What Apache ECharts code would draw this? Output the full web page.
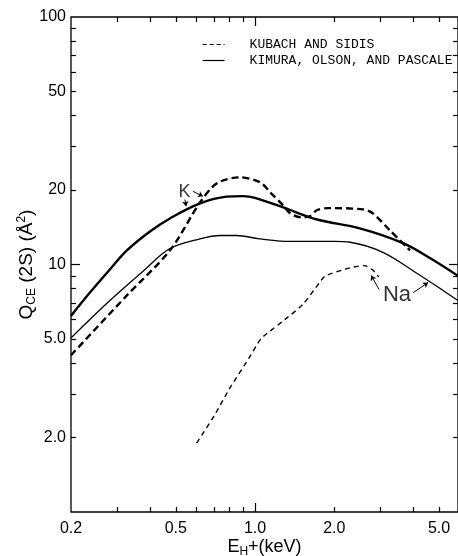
<!DOCTYPE html>
<html>
<head>
<meta charset="utf-8">
<script src="https://cdn.jsdelivr.net/npm/echarts@6/dist/echarts.min.js"></script>
<style>
  html, body { margin: 0; padding: 0; background: #fff; }
  #chart { width: 458px; height: 556px; }
</style>
</head>
<body>
<div id="chart"></div>
<script>
// energy (keV) vs cross section (A^2)
const kimuraK = [[0.2, 6.2], [0.236, 7.7], [0.281, 9.55], [0.326, 11.4], [0.399, 13.6], [0.475, 15.35], [0.618, 17.65], [0.78, 18.8], [0.9, 18.9], [1.0, 18.6], [1.28, 17.0], [1.72, 15.2], [2.5, 14.0], [3.65, 12.2], [4.63, 10.6], [5.9, 9.0]]
const kimuraNa = [[0.2, 5.05], [0.281, 7.15], [0.38, 9.5], [0.475, 11.6], [0.618, 12.7], [0.74, 13.1], [0.85, 13.1], [1.04, 12.7], [1.36, 12.4], [2.0, 12.4], [2.3, 12.3], [3.06, 11.2], [4.13, 9.2], [5.18, 7.85], [5.9, 7.15]]
const kubachK = [[0.2, 4.3], [0.326, 7.5], [0.475, 11.4], [0.618, 17.8], [0.717, 21.3], [0.877, 22.5], [1.045, 21.5], [1.14, 19.6], [1.28, 17.3], [1.36, 16.1], [1.5, 15.5], [1.62, 15.7], [1.72, 16.6], [1.9, 16.9], [2.57, 16.7], [2.8, 16.1], [3.26, 13.7], [3.88, 11.4]]
const kubachNa = [[0.6, 1.9], [0.7, 2.45], [0.8, 3.15], [0.95, 4.2], [1.05, 5.0], [1.11, 5.26], [1.3, 6.0], [1.52, 6.9], [1.75, 8.4], [1.85, 9.0], [2.3, 9.7], [2.6, 9.9], [2.8, 9.5], [2.95, 8.9]]

// axis ticks and labels
const xLabels = [0.2, 0.5, 1, 2, 5]
const xTicks = [0.3, 0.4, 0.5, 0.6, 0.7, 0.8, 0.9, 2, 3, 4, 5]
const xDecade = [1]
const yLabels = [2, 5, 10, 20, 50, 100]
const yTicks = [2, 3, 4, 5, 6, 7, 8, 9, 20, 30, 40, 50, 60, 70, 80, 90]
const yDecade = [10]

// annotations
const notes = [
  { name: 'K', value: [0.54, 19.9], size: 18 },
  { name: 'Na', value: [3.46, 7.6], size: 22 },
]
const arrows = [
  [[0.581, 19.75], [0.634, 18.85]],
  [[0.542, 18.3], [0.547, 17.2]],
  [[2.96, 7.92], [2.76, 9.03]],
  [[3.99, 7.7], [4.54, 8.45]],
]

const ink = '#000'
const font = '"Liberation Sans", Arial, sans-serif'

const logX = (extra) => Object.assign({
  type: 'log', logBase: 10, min: 0.2, max: 5.9, gridIndex: 0,
  axisLine: { show: false },
  splitLine: { show: false },
  axisLabel: { show: false },
}, extra)
const logY = (extra) => Object.assign({
  type: 'log', logBase: 10, min: 1, max: 100, gridIndex: 0,
  axisLine: { show: false },
  splitLine: { show: false },
  axisLabel: { show: false },
}, extra)
const tick = (values, len) => ({
  show: true, inside: true, length: len, customValues: values,
  lineStyle: { color: ink, width: 1.2 },
})

const chart = echarts.init(document.getElementById('chart'), null, { renderer: 'canvas' })
chart.setOption({
  backgroundColor: '#fff',
  animation: false,
  grid: {
    left: 71, top: 17, right: 0, bottom: 44,
    outerBoundsMode: 'none', containLabel: false,
    show: true, borderColor: ink, borderWidth: 1.3, backgroundColor: 'transparent',
  },
  legend: {
    orient: 'vertical',
    left: 197,
    top: 33,
    itemWidth: 22,
    itemHeight: 12,
    itemGap: 3,
    data: [
      { name: 'KUBACH AND SIDIS', lineStyle: { type: [4, 3] } },
      { name: 'KIMURA, OLSON, AND PASCALE' },
    ],
    lineStyle: { width: 1.2 },
    itemStyle: { opacity: 0 },
    textStyle: { fontFamily: '"Liberation Mono", "DejaVu Sans Mono", monospace', fontSize: 13, color: ink, padding: [0, 0, 0, 20] },
  },
  xAxis: [
    logX({
      position: 'bottom',
      axisTick: tick(xTicks, 5),
      axisLabel: {
        show: true, customValues: xLabels, margin: 9,
        fontFamily: font, fontSize: 16, color: ink,
        formatter: (v) => (+v).toFixed(1),
      },
      name: '{n|E}{s|H}{n|+(keV)}',
      nameLocation: 'middle',
      nameMoveOverlap: false,
      nameGap: 25,
      nameTextStyle: {
        rich: {
          n: { fontFamily: font, fontSize: 18, color: ink },
          s: { fontFamily: font, fontSize: 12, color: ink, padding: [9, 0, 0, 0] },
        },
      },
    }),
    logX({ position: 'bottom', axisTick: tick(xDecade, 9) }),
    logX({ position: 'top', axisTick: tick(xTicks, 5) }),
    logX({ position: 'top', axisTick: tick(xDecade, 9) }),
  ],
  yAxis: [
    logY({
      position: 'left',
      axisTick: tick(yTicks, 5),
      axisLabel: {
        show: true, customValues: yLabels, margin: 5,
        fontFamily: font, fontSize: 16, color: ink,
        formatter: (v) => (+v < 10 ? (+v).toFixed(1) : String(+v)),
      },
      name: '{n|Q}{s|CE}{n| (2S) (Å}{p|2}{n|)}',
      nameLocation: 'middle',
      nameMoveOverlap: false,
      nameRotate: 90,
      nameGap: 33,
      nameTextStyle: {
        rich: {
          n: { fontFamily: font, fontSize: 19, color: ink },
          s: { fontFamily: font, fontSize: 12, color: ink, padding: [10, 0, 0, 0] },
          p: { fontFamily: font, fontSize: 12, color: ink, padding: [0, 0, 10, 0] },
        },
      },
    }),
    logY({ position: 'left', axisTick: tick(yDecade, 9) }),
    logY({ position: 'right', axisTick: tick(yTicks, 5) }),
    logY({ position: 'right', axisTick: tick(yDecade, 9) }),
  ],
  series: [
    {
      name: 'KIMURA, OLSON, AND PASCALE', type: 'line', data: kimuraK,
      symbol: 'none', smooth: 0.35, lineStyle: { color: ink, width: 2.4 }, itemStyle: { color: ink },
    },
    {
      name: 'KIMURA, OLSON, AND PASCALE', type: 'line', data: kimuraNa,
      symbol: 'none', smooth: 0.35, lineStyle: { color: ink, width: 1.3 }, itemStyle: { color: ink },
    },
    {
      name: 'KUBACH AND SIDIS', type: 'line', data: kubachK,
      symbol: 'none', smooth: 0.3, lineStyle: { color: ink, width: 2.4, type: [7, 4] }, itemStyle: { color: ink },
    },
    {
      name: 'KUBACH AND SIDIS', type: 'line', data: kubachNa,
      symbol: 'none', smooth: 0.2, lineStyle: { color: ink, width: 1.4, type: [5, 4] }, itemStyle: { color: ink },
    },
    {
      name: 'notes', type: 'scatter', symbolSize: 0, silent: true,
      data: notes.map((d) => ({
        name: d.name, value: d.value,
        label: { show: true, position: 'inside', offset: [0, 1], formatter: '{b}', fontFamily: font, fontSize: d.size, color: ink },
      })),
      markLine: {
        silent: true,
        symbol: ['none', 'arrow'],
        symbolSize: 5,
        label: { show: false },
        lineStyle: { color: ink, width: 1, type: 'solid' },
        data: arrows.map(([a, b]) => [{ coord: a }, { coord: b }]),
      },
    },
  ],
})
</script>
</body>
</html>
